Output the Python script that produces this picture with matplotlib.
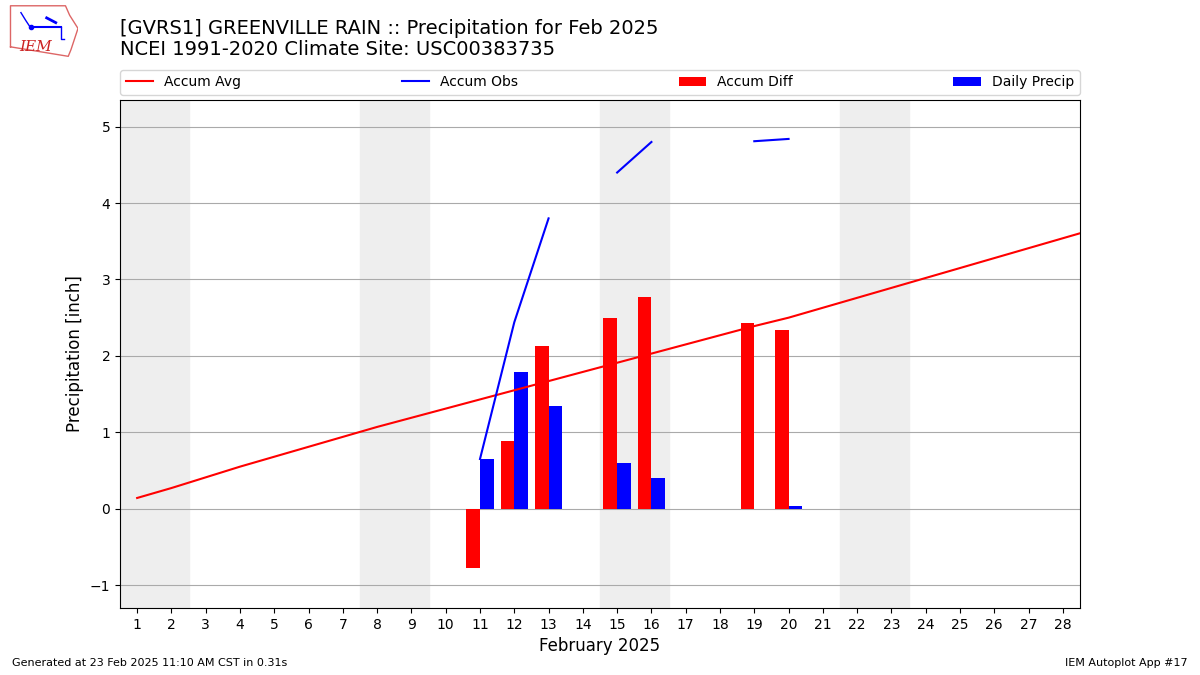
import matplotlib
matplotlib.use("Agg")
from matplotlib import pyplot as plt
import numpy as np

days = list(range(1, 30))
accum_avg = [0.14, 0.27, 0.41, 0.55, 0.68, 0.81, 0.94, 1.07, 1.19, 1.31,
             1.43, 1.55, 1.67, 1.79, 1.91, 2.03, 2.15, 2.27, 2.39, 2.50,
             2.63, 2.76, 2.89, 3.02, 3.15, 3.28, 3.41, 3.54, 3.67]
nan = np.nan
accum_obs = [nan] * 10 + [0.65, 2.44, 3.80, nan, 4.40, 4.80, nan, nan, 4.81, 4.84] + [nan] * 9
diff_days = [11, 12, 13, 15, 16, 19, 20]
accum_diff = [-0.78, 0.89, 2.13, 2.49, 2.77, 2.43, 2.34]
precip_days = [11, 12, 13, 15, 16, 20]
daily_precip = [0.65, 1.79, 1.35, 0.60, 0.40, 0.03]
weekends = [1, 8, 15, 22]

fig = plt.figure(figsize=(12, 6.75), dpi=100)
ax = fig.add_axes([0.1, 0.0993, 0.8, 0.7526])

for d in weekends:
    ax.axvspan(d - 0.5, d + 1.5, color="#eeeeee", zorder=0)

ax.plot(days, accum_avg, color="r", label="Accum Avg", zorder=3)
ax.plot(days, accum_obs, color="b", label="Accum Obs", zorder=3)
ax.bar(diff_days, accum_diff, width=-0.4, align="edge", color="r", label="Accum Diff", zorder=2)
ax.bar(precip_days, daily_precip, width=0.4, align="edge", color="b", label="Daily Precip", zorder=2)

ax.set_xlim(0.5, 28.5)
ax.set_ylim(-1.3, 5.35)
ax.set_xticks(range(1, 29))
ax.grid(axis="y", color="#aaaaaa")
ax.set_axisbelow(True)
ax.set_xlabel("February 2025", fontsize=12)
ax.set_ylabel("Precipitation [inch]", fontsize=12)
ax.legend(loc="lower left", bbox_to_anchor=(0, 1.01, 1, 0.05), mode="expand",
          ncol=4, fontsize=10, borderaxespad=0)

fig.text(0.1, 0.9585, "[GVRS1] GREENVILLE RAIN :: Precipitation for Feb 2025", fontsize=14, va="center")
fig.text(0.1, 0.926, "NCEI 1991-2020 Climate Site: USC00383735", fontsize=14, va="center")
fig.text(0.01, 0.013, "Generated at 23 Feb 2025 11:10 AM CST in 0.31s", fontsize=8)
fig.text(0.99, 0.013, "IEM Autoplot App #17", fontsize=8, ha="right")

# logo
lax = fig.add_axes([0.007, 0.915, 0.058, 0.078])
lax.set_xlim(0, 1)
lax.set_ylim(0, 1)
lax.axis("off")
lax.plot([0.03, 0.03, 0.82, 0.88, 1.0, 0.95, 0.9, 0.86, 0.03],
         [0.2, 0.98, 0.98, 0.8, 0.55, 0.35, 0.15, 0.02, 0.2], color="#dd6666", lw=1)
lax.text(0.15, 0.12, "IEM", color="#cc2222", fontsize=11, style="italic", family="DejaVu Serif")
lax.plot([0.32, 0.75], [0.58, 0.58], color="b", lw=1.5)
lax.plot([0.32], [0.58], "bo", ms=3)
lax.plot([0.55, 0.68], [0.75, 0.66], color="b", lw=2)
lax.plot([0.75, 0.75, 0.8], [0.58, 0.35, 0.35], color="b", lw=1)
lax.plot([0.18, 0.25, 0.3], [0.85, 0.7, 0.6], color="b", lw=1)

fig.savefig("out.png", dpi=100)
